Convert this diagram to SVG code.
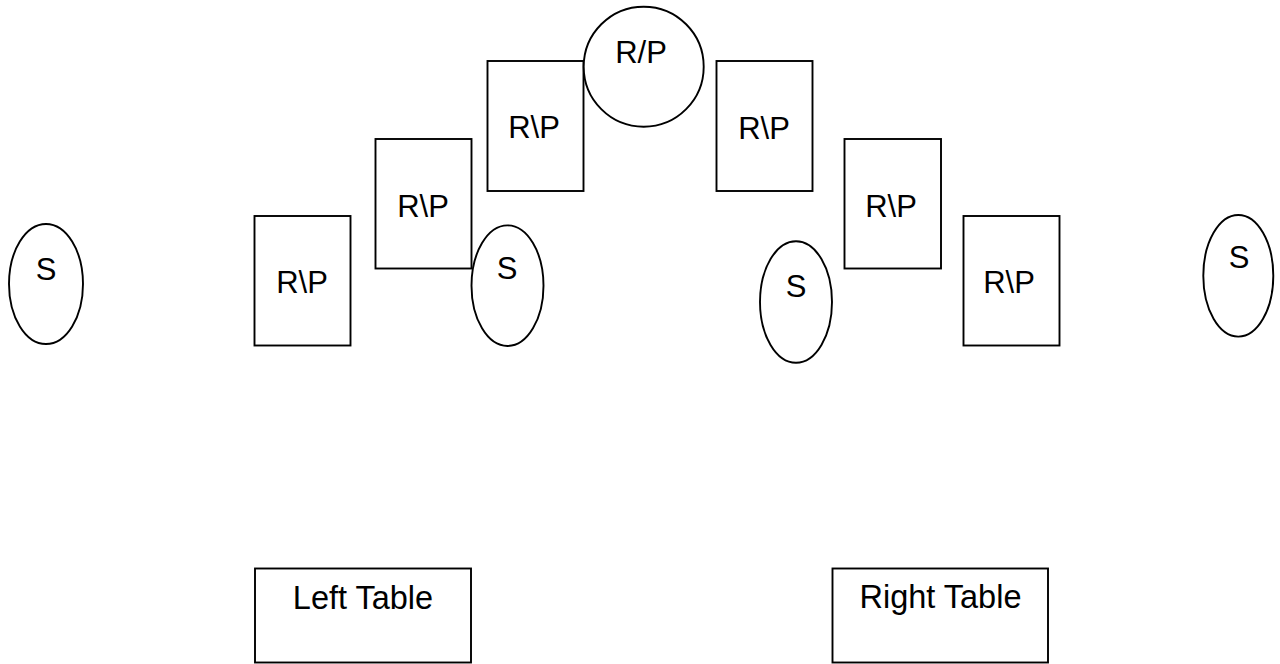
<svg xmlns="http://www.w3.org/2000/svg" width="1280" height="664" viewBox="0 0 1280 664">
<style>
.s{fill:#fff;stroke:#000;stroke-width:1.9}
.t{font-family:"Liberation Sans",Arial,sans-serif;font-size:31px;fill:#000;text-anchor:middle}
.tb{font-size:32.5px}
</style>
<rect width="1280" height="664" fill="#fff"/>
<g id="connectors"></g>
<g id="s1"><ellipse class="s" cx="46" cy="284" rx="37" ry="60"/><text class="t" x="46" y="280">S</text></g>
<g id="rp1"><rect class="s" x="254.5" y="216" width="96" height="129.5"/><text class="t" x="302" y="293">R\P</text></g>
<g id="rp2"><rect class="s" x="375.5" y="139" width="96" height="129.5"/><text class="t" x="423" y="217">R\P</text></g>
<g id="s2"><ellipse class="s" cx="507.5" cy="285.7" rx="36" ry="60.3"/><text class="t" x="507" y="279">S</text></g>
<g id="rp3"><rect class="s" x="487.5" y="61" width="96" height="130"/><text class="t" x="534" y="138">R\P</text></g>
<g id="rpc"><circle class="s" cx="643.7" cy="66.7" r="60"/><text class="t" x="641" y="62.5">R/P</text></g>
<g id="rp4"><rect class="s" x="716.5" y="61" width="96" height="130"/><text class="t" x="764" y="139">R\P</text></g>
<g id="rp5"><rect class="s" x="844.5" y="139" width="96.5" height="129.5"/><text class="t" x="891" y="217">R\P</text></g>
<g id="s3"><ellipse class="s" cx="796" cy="302" rx="36" ry="60.7"/><text class="t" x="796" y="296.5">S</text></g>
<g id="rp6"><rect class="s" x="963.5" y="216" width="96" height="129.5"/><text class="t" x="1009" y="293">R\P</text></g>
<g id="s4"><ellipse class="s" cx="1238.3" cy="275.8" rx="35" ry="60.8"/><text class="t" x="1239" y="268">S</text></g>
<g id="lt"><rect class="s" x="255" y="568.5" width="216" height="94"/><text class="t tb" x="363" y="609">Left Table</text></g>
<g id="rt"><rect class="s" x="832.5" y="568.5" width="215.5" height="94"/><text class="t tb" x="940.5" y="608">Right Table</text></g>
</svg>
